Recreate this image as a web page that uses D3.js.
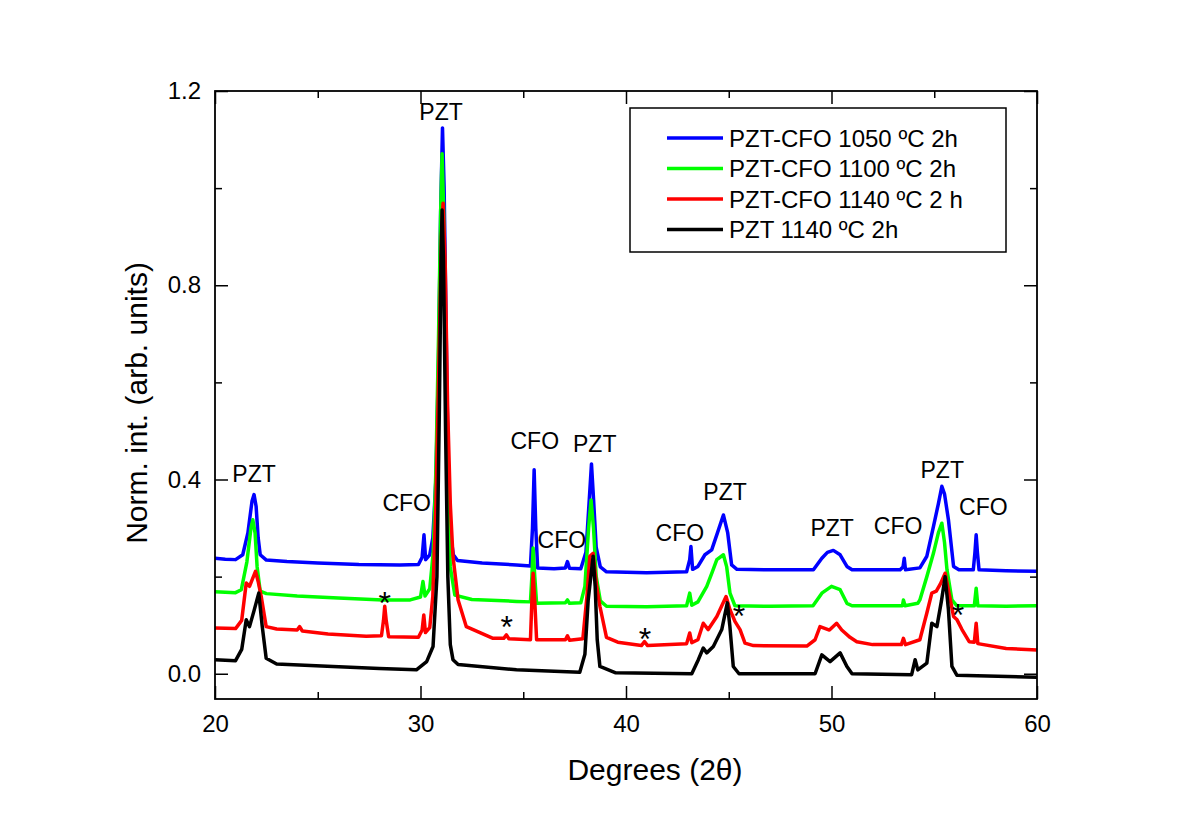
<!DOCTYPE html>
<html>
<head>
<meta charset="utf-8">
<script src="https://cdn.jsdelivr.net/npm/d3@7"></script>
<style>
  body { margin: 0; background: #fff; }
  svg { font-family: Arial, "Liberation Sans", sans-serif; }
</style>
</head>
<body>
<svg id="chart" width="1198" height="836"></svg>
<script>
// XRD patterns, [2theta, normalised intensity]
const cfo1050 = [[20.0,0.238],[20.5,0.236],[21.0,0.235],[21.35,0.245],[21.6,0.29],[21.8,0.355],[21.9,0.369],[22.0,0.345],[22.1,0.28],[22.2,0.245],[22.5,0.234],[23.5,0.231],[25,0.228],[27,0.225],[29,0.224],[29.9,0.225],[30.08,0.24],[30.17,0.286],[30.25,0.235],[30.45,0.245],[30.6,0.28],[30.75,0.4],[30.88,0.65],[30.98,0.95],[31.07,1.124],[31.15,1.0],[31.25,0.7],[31.35,0.42],[31.45,0.29],[31.6,0.245],[31.8,0.233],[33,0.228],[34.67,0.224],[35.35,0.222],[35.45,0.3],[35.53,0.42],[35.61,0.3],[35.7,0.218],[36.5,0.216],[37.05,0.218],[37.15,0.231],[37.25,0.217],[37.8,0.216],[38.05,0.25],[38.2,0.35],[38.32,0.432],[38.42,0.36],[38.55,0.26],[38.75,0.22],[39.05,0.21],[41,0.208],[42.95,0.21],[43.1,0.235],[43.16,0.262],[43.24,0.215],[43.5,0.221],[43.84,0.245],[44.17,0.255],[44.45,0.29],[44.74,0.327],[44.95,0.29],[45.14,0.224],[45.4,0.215],[47,0.214],[49.12,0.214],[49.53,0.238],[49.8,0.25],[50.09,0.254],[50.42,0.245],[50.75,0.221],[51,0.214],[53.34,0.214],[53.48,0.22],[53.54,0.238],[53.6,0.214],[54.3,0.218],[54.64,0.242],[54.96,0.303],[55.2,0.35],[55.37,0.386],[55.5,0.37],[55.69,0.317],[55.94,0.221],[56.2,0.214],[56.9,0.214],[56.98,0.25],[57.04,0.286],[57.1,0.25],[57.18,0.214],[58.5,0.212],[60,0.211]];

const cfo1100 = [[20,0.169],[21,0.167],[21.28,0.173],[21.55,0.23],[21.75,0.3],[21.84,0.317],[21.95,0.29],[22.05,0.22],[22.2,0.17],[22.5,0.165],[24,0.16],[26,0.156],[28.17,0.152],[29.5,0.152],[30.0,0.158],[30.12,0.19],[30.22,0.16],[30.45,0.175],[30.62,0.25],[30.75,0.42],[30.88,0.7],[30.98,0.95],[31.05,1.071],[31.13,0.95],[31.23,0.65],[31.33,0.38],[31.45,0.22],[31.67,0.162],[32.5,0.153],[34.67,0.149],[35.35,0.148],[35.42,0.2],[35.48,0.259],[35.56,0.2],[35.65,0.145],[37.05,0.146],[37.15,0.152],[37.25,0.145],[37.8,0.146],[38.0,0.18],[38.18,0.3],[38.3,0.358],[38.42,0.3],[38.55,0.2],[38.75,0.15],[39.05,0.139],[41,0.138],[42.95,0.14],[43.1,0.166],[43.2,0.141],[43.5,0.148],[43.93,0.18],[44.2,0.21],[44.42,0.235],[44.74,0.245],[44.9,0.22],[45.06,0.166],[45.3,0.14],[47,0.139],[49.1,0.14],[49.53,0.166],[50.0,0.18],[50.42,0.173],[50.75,0.145],[51,0.14],[53.45,0.14],[53.5,0.152],[53.58,0.14],[54.2,0.145],[54.3,0.152],[54.64,0.2],[54.96,0.248],[55.2,0.29],[55.37,0.31],[55.5,0.27],[55.62,0.214],[55.86,0.152],[56.1,0.14],[56.95,0.14],[57.04,0.176],[57.12,0.14],[58.5,0.139],[60,0.14]];

const cfo1140 = [[20,0.094],[21,0.093],[21.3,0.11],[21.52,0.187],[21.68,0.18],[21.97,0.211],[22.1,0.19],[22.25,0.159],[22.49,0.097],[23,0.092],[24.0,0.09],[24.12,0.097],[24.25,0.088],[25.5,0.082],[27.36,0.077],[28.1,0.078],[28.2,0.11],[28.26,0.139],[28.33,0.11],[28.45,0.076],[29.9,0.075],[30.08,0.09],[30.16,0.121],[30.24,0.085],[30.45,0.095],[30.6,0.16],[30.75,0.35],[30.9,0.65],[31.02,0.9],[31.1,0.969],[31.2,0.85],[31.32,0.55],[31.45,0.35],[31.58,0.242],[31.83,0.152],[32.23,0.097],[33.53,0.073],[34.05,0.073],[34.18,0.08],[34.3,0.072],[35.35,0.07],[35.42,0.15],[35.48,0.207],[35.56,0.15],[35.65,0.07],[37.05,0.07],[37.15,0.078],[37.25,0.069],[37.9,0.072],[38.1,0.16],[38.24,0.242],[38.4,0.248],[38.57,0.18],[38.73,0.139],[39.05,0.075],[39.6,0.065],[40.75,0.058],[40.9,0.066],[41.05,0.058],[42.95,0.062],[43.1,0.084],[43.2,0.064],[43.5,0.07],[43.76,0.104],[44.0,0.091],[44.42,0.118],[44.87,0.159],[45.06,0.132],[45.3,0.108],[45.55,0.091],[45.79,0.063],[46.2,0.058],[48.8,0.057],[49.2,0.07],[49.44,0.097],[49.9,0.09],[50.25,0.104],[50.5,0.09],[50.9,0.075],[51.23,0.066],[52,0.06],[53.4,0.06],[53.5,0.073],[53.6,0.06],[54.3,0.07],[54.64,0.125],[54.88,0.166],[55.1,0.17],[55.3,0.185],[55.53,0.207],[55.7,0.17],[55.94,0.118],[56.11,0.111],[56.35,0.091],[56.7,0.066],[56.95,0.065],[57.04,0.104],[57.12,0.062],[58.5,0.052],[60,0.049]];

const pzt1140 = [[20,0.029],[21,0.027],[21.3,0.05],[21.52,0.111],[21.68,0.097],[21.9,0.13],[22.13,0.166],[22.3,0.097],[22.49,0.032],[23,0.02],[25.74,0.015],[28,0.011],[29.8,0.008],[30.3,0.025],[30.61,0.056],[30.8,0.2],[30.92,0.55],[31.0,0.85],[31.05,0.955],[31.12,0.85],[31.22,0.5],[31.33,0.2],[31.45,0.06],[31.58,0.029],[31.83,0.019],[34.67,0.008],[37.75,0.003],[38.0,0.04],[38.16,0.152],[38.4,0.242],[38.5,0.18],[38.6,0.07],[38.73,0.015],[39.5,0.002],[43.2,0.0],[43.52,0.029],[43.76,0.053],[43.93,0.043],[44.25,0.056],[44.66,0.091],[44.93,0.146],[45.05,0.1],[45.22,0.015],[45.5,0.0],[49.2,0.0],[49.53,0.039],[49.93,0.025],[50.42,0.043],[50.75,0.015],[51,0.0],[53.9,-0.002],[54.07,0.029],[54.2,0.008],[54.64,0.022],[54.88,0.104],[55.13,0.097],[55.35,0.15],[55.53,0.2],[55.69,0.132],[55.86,0.015],[56.1,-0.003],[60,-0.007]];

const seriesNames = ["PZT-CFO 1050 ºC 2h", "PZT-CFO 1100 ºC 2h", "PZT-CFO 1140 ºC 2 h", "PZT 1140 ºC 2h"];
const seriesColors = ["#0000ff", "#00ff00", "#ff0000", "#000000"];
const seriesData = [cfo1050, cfo1100, cfo1140, pzt1140];

// peak labels [2theta, intensity, text]
const peakLabels = [[21.9,0.412,"PZT"],[29.33,0.352,"CFO"],[31.0,1.157,"PZT"],[35.56,0.48,"CFO"],[36.88,0.276,"CFO"],[38.48,0.474,"PZT"],[42.62,0.29,"CFO"],[44.82,0.375,"PZT"],[50.03,0.30,"PZT"],[53.24,0.305,"CFO"],[55.39,0.42,"PZT"],[57.39,0.344,"CFO"]];
const starMarks = [[28.26,0.159],[34.2,0.109],[40.92,0.086],[45.5,0.132],[56.16,0.134]];

const xTicks = [20, 30, 40, 50, 60];
const yTicks = [0.0, 0.4, 0.8, 1.2];

const margin = { top: 91, right: 161, bottom: 137, left: 215 };
const width = 1198 - margin.left - margin.right;
const height = 836 - margin.top - margin.bottom;

const svg = d3.select("#chart");
svg.append("rect").attr("width", 1198).attr("height", 836).attr("fill", "#fff");

const g = svg.append("g")
    .attr("transform", `translate(${margin.left},${margin.top})`);

const x = d3.scaleLinear().domain([20, 60]).range([0, width]);
const y = d3.scaleLinear().domain([-0.052, 1.2]).range([height, 0]);

const line = d3.line()
    .x(d => x(d[0]))
    .y(d => y(d[1]));

// draw traces: blue first, black last
seriesData.forEach((s, i) => {
    g.append("path")
        .datum(s)
        .attr("fill", "none")
        .attr("stroke", seriesColors[i])
        .attr("stroke-width", 3.5)
        .attr("stroke-linejoin", "round")
        .attr("d", line);
});

// axes with inward ticks
function styleAxis(sel) {
    sel.select(".domain").remove();
    sel.selectAll("line").attr("stroke", "#000").attr("stroke-width", 1.5);
    sel.selectAll("text").attr("font-size", 24).attr("fill", "#000");
}

const minorX = d3.range(25, 60, 10);
const minorY = [0.2, 0.6, 1.0];

g.append("g").attr("transform", `translate(0,${height})`)
    .call(d3.axisBottom(x).tickValues(xTicks).tickSize(-13).tickPadding(16).tickFormat(d3.format("d")))
    .call(styleAxis);
g.append("g").attr("transform", `translate(0,${height})`)
    .call(d3.axisBottom(x).tickValues(minorX).tickSize(-7).tickFormat(""))
    .call(styleAxis);
g.append("g")
    .call(d3.axisTop(x).tickValues(xTicks).tickSize(-13).tickFormat(""))
    .call(styleAxis);
g.append("g")
    .call(d3.axisTop(x).tickValues(minorX).tickSize(-7).tickFormat(""))
    .call(styleAxis);

g.append("g")
    .call(d3.axisLeft(y).tickValues(yTicks).tickSize(-13).tickPadding(14).tickFormat(d3.format(".1f")))
    .call(styleAxis);
g.append("g")
    .call(d3.axisLeft(y).tickValues(minorY).tickSize(-7).tickFormat(""))
    .call(styleAxis);
g.append("g").attr("transform", `translate(${width},0)`)
    .call(d3.axisRight(y).tickValues(yTicks).tickSize(-13).tickFormat(""))
    .call(styleAxis);
g.append("g").attr("transform", `translate(${width},0)`)
    .call(d3.axisRight(y).tickValues(minorY).tickSize(-7).tickFormat(""))
    .call(styleAxis);

g.append("rect")
    .attr("width", width)
    .attr("height", height)
    .attr("fill", "none")
    .attr("stroke", "#000")
    .attr("stroke-width", 1.8);

// peak annotations
g.selectAll(".peak")
    .data(peakLabels)
    .enter().append("text")
    .attr("class", "peak")
    .attr("x", d => x(d[0]))
    .attr("y", d => y(d[1]))
    .attr("dy", "0.36em")
    .attr("text-anchor", "middle")
    .attr("font-size", 23)
    .text(d => d[2]);

g.selectAll(".star")
    .data(starMarks)
    .enter().append("text")
    .attr("class", "star")
    .attr("x", d => x(d[0]))
    .attr("y", d => y(d[1]))
    .attr("dy", "0.55em")
    .attr("text-anchor", "middle")
    .attr("font-size", 32)
    .text("*");

// axis titles
svg.append("text")
    .attr("x", 655)
    .attr("y", 780)
    .attr("text-anchor", "middle")
    .attr("font-size", 30)
    .text("Degrees (2θ)");

svg.append("text")
    .attr("transform", "translate(147,403) rotate(-90)")
    .attr("text-anchor", "middle")
    .attr("font-size", 30)
    .text("Norm. int. (arb. units)");

// legend
const legend = svg.append("g").attr("transform", "translate(630,108)");
legend.append("rect")
    .attr("width", 376)
    .attr("height", 144)
    .attr("fill", "#fff")
    .attr("stroke", "#000")
    .attr("stroke-width", 1.5);

seriesNames.forEach((name, i) => {
    const row = legend.append("g").attr("transform", `translate(0,${30 + i * 30.5})`);
    row.append("line")
        .attr("x1", 37).attr("x2", 93)
        .attr("stroke", seriesColors[i])
        .attr("stroke-width", 3.5);
    row.append("text")
        .attr("x", 99)
        .attr("dy", "0.36em")
        .attr("font-size", 24)
        .text(name);
});
</script>
</body>
</html>
